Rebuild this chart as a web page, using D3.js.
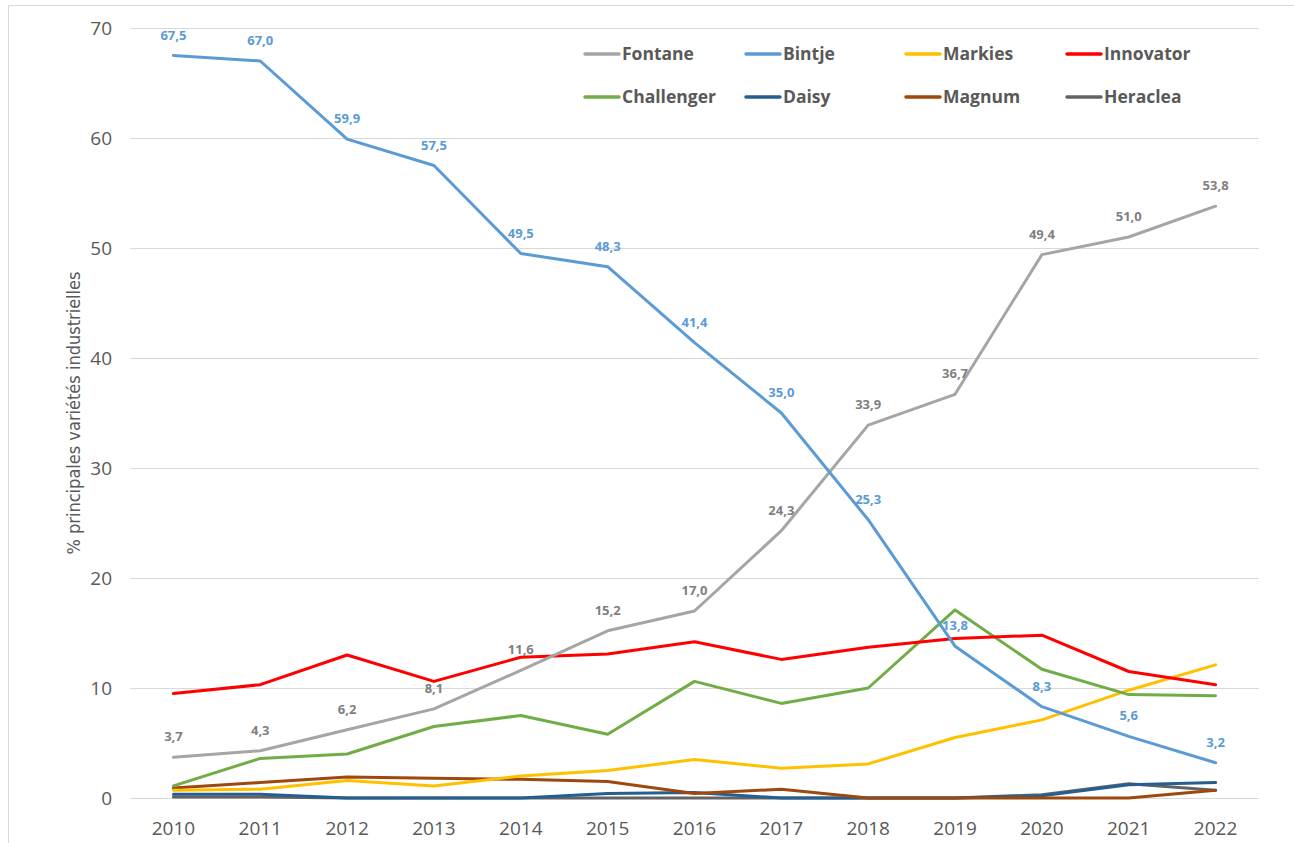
<!DOCTYPE html>
<html>
<head>
<meta charset="utf-8">
<script src="https://cdn.jsdelivr.net/npm/d3@7"></script>
<style>
  body { margin: 0; background: #fff; }
  text { font-family: "Open Sans", "Liberation Sans", sans-serif; }
</style>
</head>
<body>
<div id="chart"></div>
<script>
// data
const years = [2010, 2011, 2012, 2013, 2014, 2015, 2016, 2017, 2018, 2019, 2020, 2021, 2022];
const fontane    = [3.7, 4.3, 6.2, 8.1, 11.6, 15.2, 17.0, 24.3, 33.9, 36.7, 49.4, 51.0, 53.8];
const bintje     = [67.5, 67.0, 59.9, 57.5, 49.5, 48.3, 41.4, 35.0, 25.3, 13.8, 8.3, 5.6, 3.2];
const markies    = [0.7, 0.8, 1.6, 1.1, 2.0, 2.5, 3.5, 2.7, 3.1, 5.5, 7.1, 9.8, 12.1];
const innovator  = [9.5, 10.3, 13.0, 10.6, 12.8, 13.1, 14.2, 12.6, 13.7, 14.5, 14.8, 11.5, 10.3];
const challenger = [1.1, 3.6, 4.0, 6.5, 7.5, 5.8, 10.6, 8.6, 10.0, 17.1, 11.7, 9.4, 9.3];
const daisy      = [0.35, 0.35, 0, 0, 0, 0.4, 0.5, 0, 0, 0, 0.2, 1.2, 1.4];
const magnum     = [0.9, 1.4, 1.9, 1.8, 1.7, 1.5, 0.4, 0.8, 0, 0, 0, 0, 0.7];
const heraclea   = [0.1, 0.1, 0, 0, 0, 0, 0, 0, 0, 0, 0.3, 1.3, 0.7];
const yTicks = [0, 10, 20, 30, 40, 50, 60, 70];

const series = [
  { name: "Fontane", values: fontane, color: "#a5a5a5", labels: true, labelColor: "#7f7f7f" },
  { name: "Bintje", values: bintje, color: "#5b9bd5", labels: true, labelColor: "#5b9bd5" },
  { name: "Markies", values: markies, color: "#ffc000" },
  { name: "Innovator", values: innovator, color: "#ff0000" },
  { name: "Challenger", values: challenger, color: "#70ad47" },
  { name: "Daisy", values: daisy, color: "#255e91" },
  { name: "Magnum", values: magnum, color: "#9e480e" },
  { name: "Heraclea", values: heraclea, color: "#636363" }
];
// drawing order (back to front)
const drawOrder = ["Heraclea", "Daisy", "Magnum", "Markies", "Challenger", "Innovator", "Fontane", "Bintje"];

const width = 1294, height = 843;
const svg = d3.select("#chart").append("svg")
  .attr("width", width)
  .attr("height", height);

// outer chart border
svg.append("path")
  .attr("d", "M8.5," + height + " V5.5 H" + width)
  .attr("fill", "none")
  .attr("stroke", "#d9d9d9")
  .attr("stroke-width", 1);

const x = d3.scalePoint().domain(years).range([130, 1259]).padding(0.5);
const y = d3.scaleLinear().domain([0, 70]).range([798, 28]);

// gridlines
svg.append("g")
  .selectAll("line")
  .data(yTicks)
  .enter().append("line")
  .attr("x1", 130).attr("x2", 1259)
  .attr("y1", d => Math.round(y(d)) + 0.5)
  .attr("y2", d => Math.round(y(d)) + 0.5)
  .attr("stroke", "#d9d9d9")
  .attr("stroke-width", 1);

// y tick labels
svg.append("g")
  .selectAll("text")
  .data(yTicks)
  .enter().append("text")
  .attr("x", 112)
  .attr("y", d => y(d) + 7)
  .attr("text-anchor", "end")
  .attr("font-size", 19)
  .attr("fill", "#595959")
  .text(d => d);

// x tick labels
svg.append("g")
  .selectAll("text")
  .data(years)
  .enter().append("text")
  .attr("x", d => x(d))
  .attr("y", 835)
  .attr("text-anchor", "middle")
  .attr("font-size", 19)
  .attr("fill", "#595959")
  .text(d => d);

// y axis title
svg.append("text")
  .attr("transform", "translate(80,413) rotate(-90)")
  .attr("text-anchor", "middle")
  .attr("font-size", 18)
  .attr("fill", "#595959")
  .style("font-family", "'Liberation Sans Narrow', 'DejaVu Sans Condensed', sans-serif")
  .text("% principales variétés industrielles");

const line = d3.line()
  .x((d, i) => x(years[i]))
  .y(d => y(d));

const byName = {};
series.forEach(s => byName[s.name] = s);

svg.append("g")
  .selectAll("path")
  .data(drawOrder.map(n => byName[n]))
  .enter().append("path")
  .attr("d", d => line(d.values))
  .attr("fill", "none")
  .attr("stroke", d => d.color)
  .attr("stroke-width", 3)
  .attr("stroke-linejoin", "round")
  .attr("stroke-linecap", "round");

// data labels
const fmt = v => v.toFixed(1).replace(".", ",");
series.filter(s => s.labels).forEach(s => {
  svg.append("g")
    .selectAll("text")
    .data(s.values)
    .enter().append("text")
    .attr("x", (d, i) => x(years[i]))
    .attr("y", d => y(d) - 16)
    .attr("text-anchor", "middle")
    .attr("font-size", 13)
    .attr("font-weight", "bold")
    .attr("fill", s.labelColor)
    .text(d => fmt(d));
});

// legend
const legendCols = [585, 746, 906, 1067];
const legendRows = [54, 97];
const legend = svg.append("g")
  .selectAll("g")
  .data(series)
  .enter().append("g")
  .attr("transform", (d, i) => "translate(" + legendCols[i % 4] + "," + legendRows[Math.floor(i / 4)] + ")");

legend.append("line")
  .attr("x1", 0).attr("x2", 34)
  .attr("y1", 0).attr("y2", 0)
  .attr("stroke", d => d.color)
  .attr("stroke-width", 3.5)
  .attr("stroke-linecap", "round");

legend.append("text")
  .attr("x", 37)
  .attr("y", 6)
  .attr("font-size", 17.5)
  .attr("font-weight", "bold")
  .attr("fill", "#595959")
  .text(d => d.name);
</script>
</body>
</html>
